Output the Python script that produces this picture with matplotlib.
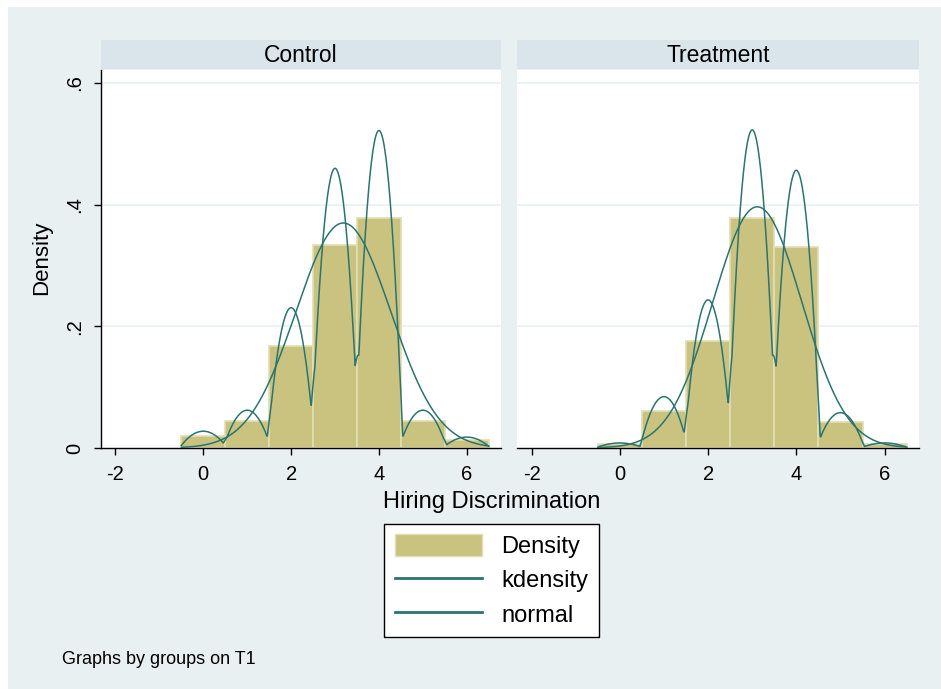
import numpy as np
import matplotlib.pyplot as plt
from matplotlib.patches import Rectangle, Patch
from matplotlib.lines import Line2D

plt.rcParams["font.family"] = ["Liberation Sans", "DejaVu Sans"]
plt.rcParams["axes.unicode_minus"] = False

# hiring discrimination score (bin centres) and histogram densities
scores = [0, 1, 2, 3, 4, 5, 6]
control = [0.020, 0.045, 0.167, 0.333, 0.378, 0.045, 0.013]
treatment = [0.006, 0.061, 0.176, 0.378, 0.330, 0.042, 0.006]
panels = ["Control", "Treatment"]
yticks = [0, 0.2, 0.4, 0.6]
ytick_labels = ["0", ".2", ".4", ".6"]
xticks = [-2, 0, 2, 4, 6]

bar_col = "#C9C37F"
bar_edge = "#E2DEB4"
line_col = "#2B7470"
bg = "#E9F0F2"
strip_col = "#D9E5EB"
grid_col = "#E9F1F1"

W, H = 941, 689
fig = plt.figure(figsize=(W / 100, H / 100), dpi=100)
fig.patch.set_facecolor("white")
fig.patches.append(Rectangle((8 / W, 0), 1, (H - 7) / H, transform=fig.transFigure,
                             facecolor=bg, edgecolor="none", zorder=-10))


def px_axes(x0, y0, x1, y1):
    return fig.add_axes([x0 / W, (H - y1) / H, (x1 - x0) / W, (y1 - y0) / H])


def kdensity(x, w, grid, half=0.543):
    # epanechnikov kernel on weighted integer scores
    x = np.asarray(x, float)
    w = np.asarray(w, float) / np.sum(w)
    u = (grid[:, None] - x[None, :]) / half
    k = np.where(np.abs(u) < 1, 0.75 * (1 - u ** 2) / half, 0)
    return (k * w).sum(axis=1)


def normal(x, w, grid):
    x = np.asarray(x, float)
    w = np.asarray(w, float) / np.sum(w)
    m = np.sum(w * x)
    s = np.sqrt(np.sum(w * (x - m) ** 2))
    return np.exp(-0.5 * ((grid - m) / s) ** 2) / (s * np.sqrt(2 * np.pi))


grid = np.linspace(-0.5, 6.5, 701)
boxes = [(101, 501), (517, 919)]
for i, (name, dens) in enumerate(zip(panels, [control, treatment])):
    x0, x1 = boxes[i]
    # strip title
    sax = px_axes(x0, 40, x1, 69)
    sax.set_facecolor(strip_col)
    sax.set_xticks([])
    sax.set_yticks([])
    for sp in sax.spines.values():
        sp.set_visible(False)
    sax.text(0.5, 0.47, name, ha="center", va="center", fontsize=16.5, transform=sax.transAxes)

    ax = px_axes(x0, 70, x1, 448)
    ax.set_facecolor("white")
    ax.bar(scores, dens, width=1, color=bar_col, edgecolor=bar_edge, linewidth=1.2, zorder=2)
    ax.plot(grid, kdensity(scores, dens, grid), color=line_col, lw=1.1, zorder=3)
    ax.plot(grid, normal(scores, dens, grid), color=line_col, lw=1.1, zorder=3)
    ax.set_xlim(-2.33, 6.78)
    ax.set_ylim(0, 0.621)
    for yv in yticks[1:]:
        ax.axhline(yv, color=grid_col, lw=1.2, zorder=1)
    ax.set_xticks(xticks)
    ax.tick_params(axis="x", length=5, width=1, labelsize=14.5, pad=7)
    for s in ["top", "right"]:
        ax.spines[s].set_visible(False)
    ax.spines["bottom"].set_linewidth(1)
    if i == 0:
        ax.set_yticks(yticks)
        ax.set_yticklabels(ytick_labels, rotation=90, va="center")
        ax.tick_params(axis="y", length=5, width=1, labelsize=14.5, pad=7)
        ax.spines["left"].set_linewidth(1)
    else:
        ax.set_yticks([])
        ax.spines["left"].set_visible(False)

fig.text(42 / W, 1 - 258 / H, "Density", rotation=90, ha="center", va="center", fontsize=16)
fig.text(492 / W, 1 - 502 / H, "Hiring Discrimination", ha="center", va="center", fontsize=17)
fig.text(62 / W, 1 - 659 / H, "Graphs by groups on T1", ha="left", va="center", fontsize=13)

handles = [Patch(facecolor=bar_col, edgecolor=bar_edge),
           Line2D([], [], color=line_col, lw=2),
           Line2D([], [], color=line_col, lw=2)]
leg = fig.legend(handles, ["Density", "kdensity", "normal"], loc="center",
                 bbox_to_anchor=(491.5 / W, 1 - 580.5 / H), fontsize=17, frameon=True,
                 fancybox=False, edgecolor="black", framealpha=1, handlelength=3.7,
                 handleheight=1.0, handletextpad=0.8, labelspacing=0.45, borderpad=0.45,
                 borderaxespad=0)
leg.get_frame().set_linewidth(1)

fig.savefig("out.png", dpi=100, facecolor=fig.get_facecolor())
